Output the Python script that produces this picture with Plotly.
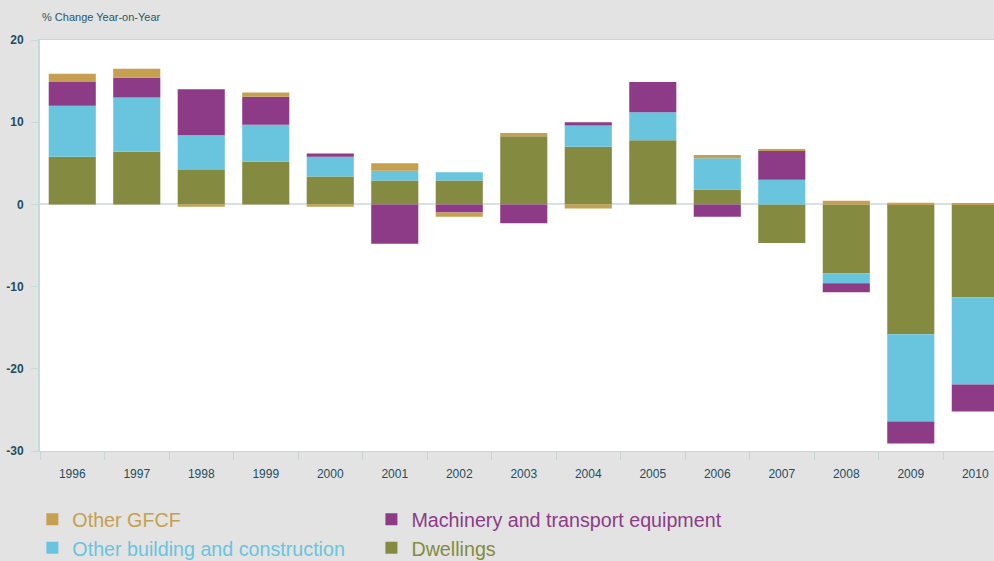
import plotly.graph_objects as go

years = ["1996", "1997", "1998", "1999", "2000", "2001", "2002", "2003",
         "2004", "2005", "2006", "2007", "2008", "2009", "2010"]

dwellings = [5.8, 6.4, 4.2, 5.2, 3.4, 2.9, 2.9, 8.3, 7.0, 7.8, 1.8, -4.7, -8.4, -15.8, -11.3]
other_building = [6.2, 6.6, 4.2, 4.5, 2.4, 1.2, 1.0, 0.0, 2.6, 3.4, 3.8, 3.0, -1.2, -10.6, -10.6]
machinery = [2.9, 2.4, 5.6, 3.4, 0.4, -4.8, -1.0, -2.3, 0.4, 3.7, -1.5, 3.5, -1.1, -2.7, -3.3]
other_gfcf = [1.0, 1.1, -0.3, 0.5, -0.3, 0.9, -0.5, 0.4, -0.5, 0.0, 0.4, 0.2, 0.45, 0.2, 0.15]

y_ticks = [20, 10, 0, -10, -20, -30]

C_DW = "#848B40"
C_OB = "#69C4DE"
C_MA = "#8D3B87"
C_OT = "#C5A050"

FONT = "Liberation Sans, Arial, sans-serif"

def lbl(text, color):
    return f'<span style="color:{color}">{text}</span>'

fig = go.Figure()
series = [
    (dwellings, "Dwellings", C_DW, 2, "legend2"),
    (other_building, "Other building and construction", C_OB, 2, "legend"),
    (machinery, "Machinery and transport equipment", C_MA, 1, "legend2"),
    (other_gfcf, "Other GFCF", C_OT, 1, "legend"),
]
for vals, name, col, rank, leg in series:
    fig.add_trace(go.Bar(
        x=years, y=vals, name=lbl(name, col), marker=dict(color=col, line=dict(width=0)),
        legendrank=rank, legend=leg, hoverinfo="skip",
    ))

leg_common = dict(
    orientation="v", xanchor="left", y=-0.119, yanchor="top",
    font=dict(size=19.7, family=FONT), bgcolor="rgba(0,0,0,0)",
    itemclick=False, itemdoubleclick=False, traceorder="normal",
)

fig.update_layout(
    width=994, height=561,
    barmode="relative", bargap=0.27,
    paper_bgcolor="#E3E3E3", plot_bgcolor="#FFFFFF",
    margin=dict(l=40, r=0, t=40, b=110, autoexpand=False),
    font=dict(family=FONT, color="#1E4E5E"),
    showlegend=True,
    legend=dict(x=-0.008, **leg_common),
    legend2=dict(x=0.3474, **leg_common),
    annotations=[dict(
        text="% Change Year-on-Year", x=0, xref="paper", xanchor="left",
        y=(451 - 17) / 411, yref="paper", yanchor="middle", showarrow=False,
        font=dict(size=11, color="#2A5766", family=FONT),
    )],
)

fig.update_xaxes(
    type="category", range=[-0.5, 14.29],
    showgrid=False, zeroline=False,
    showline=True, linecolor="#C8D6DA", linewidth=1, mirror=True,
    ticks="outside", tickson="boundaries", ticklen=8, tickcolor="#C8D6DA", tickwidth=1,
    ticklabelstandoff=12,
    tickfont=dict(size=12, color="#1E4E5E", family=FONT),
)
fig.update_yaxes(
    range=[-30, 20], tickvals=y_ticks, ticktext=[str(v) for v in y_ticks],
    showgrid=False, zeroline=True, zerolinecolor="#D8E2E5", zerolinewidth=2,
    showline=True, linecolor="#C5DCDC", linewidth=2, mirror=True,
    ticks="outside", ticklen=7, tickcolor="#C8DADA", tickwidth=1, ticklabelstandoff=5,
    tickfont=dict(size=12, color="#1E4E5E", family=FONT, weight="bold"),
)

fig.write_html("out.html", config={"displayModeBar": False},
               post_script="document.body.style.margin='0px';")
